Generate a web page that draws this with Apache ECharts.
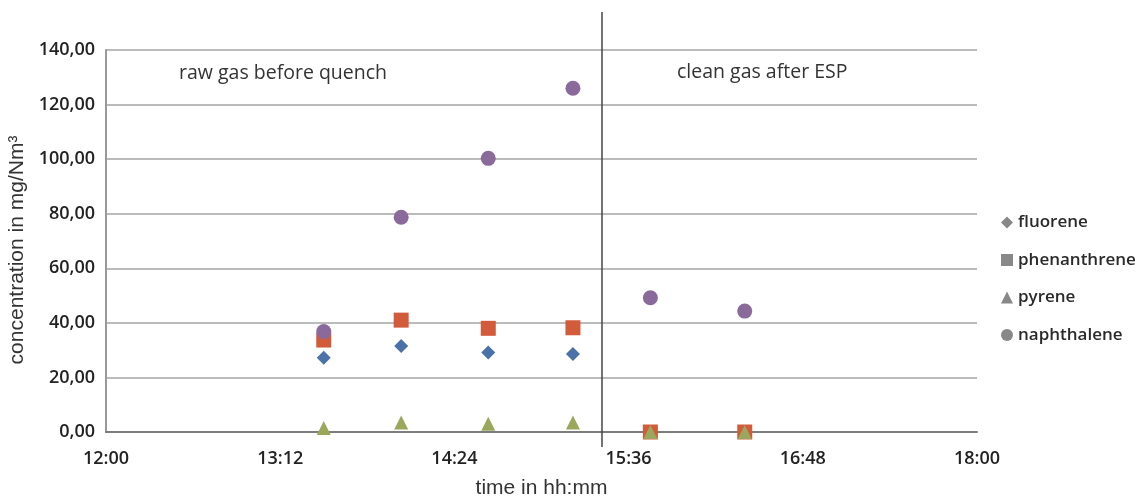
<!DOCTYPE html>
<html>
<head>
<meta charset="utf-8">
<title>PAH concentration</title>
<script src="https://cdn.jsdelivr.net/npm/echarts@6/dist/echarts.min.js"></script>
<style>
  html, body { margin: 0; padding: 0; background: #fff; }
  #chart { width: 1141px; height: 501px; }
</style>
</head>
<body>
<div id="chart"></div>
<script>
// sampling times (hh:mm) and measured concentrations in mg/Nm3
const times = ['13:30', '14:02', '14:38', '15:13', '15:45', '16:24']
const fluorene = [27.2, 31.5, 29.1, 28.6, 0, 0]
const phenanthrene = [33.7, 41.0, 38.0, 38.2, 0, 0]
const pyrene = [1.5, 3.5, 3.0, 3.5, 0, 0]
const naphthalene = [36.8, 78.7, 100.3, 126.0, 49.2, 44.3]
const dividerTime = '15:25'
const xTicks = ['12:00', '13:12', '14:24', '15:36', '16:48', '18:00']

const toMin = s => {
  const p = s.split(':')
  return +p[0] * 60 + +p[1]
}
const fmtTime = m => {
  const h = Math.floor(m / 60)
  const mm = Math.round(m % 60)
  return h + ':' + (mm < 10 ? '0' : '') + mm
}
const pairs = vals => times.map((t, i) => [toMin(t), vals[i]])

const seriesDefs = [
  { name: 'fluorene', data: fluorene, symbol: 'diamond', size: 14, color: '#4a72a8' },
  { name: 'phenanthrene', data: phenanthrene, symbol: 'rect', size: 15, color: '#d25b3b' },
  { name: 'pyrene', data: pyrene, symbol: 'triangle', size: 14, color: '#9aa85e' },
  { name: 'naphthalene', data: naphthalene, symbol: 'circle', size: 15, color: '#8a6a9a' }
]

const chart = echarts.init(document.getElementById('chart'))

chart.setOption({
  animation: false,
  grid: { left: 106, right: 164, top: 50, bottom: 69, outerBoundsMode: 'none' },
  legend: {
    orient: 'vertical',
    left: 996,
    top: 209,
    itemGap: 20.5,
    itemWidth: 12,
    itemHeight: 12,
    textStyle: { fontFamily: 'Open Sans', fontSize: 17, fontWeight: 600, color: '#2a2a2a' },
    data: seriesDefs.map(s => ({ name: s.name, icon: s.symbol, itemStyle: { color: '#888' } }))
  },
  xAxis: {
    type: 'value',
    min: toMin(xTicks[0]),
    max: toMin(xTicks[xTicks.length - 1]),
    interval: 72,
    name: 'time in hh:mm',
    nameLocation: 'middle',
    nameGap: 46,
    nameTextStyle: { fontFamily: 'Liberation Sans', fontSize: 21, color: '#333' },
    axisLine: { show: true, onZero: false, lineStyle: { color: '#7d7d7d', width: 2 } },
    axisTick: { show: false },
    splitLine: { show: false },
    axisLabel: {
      margin: 18,
      fontFamily: 'Open Sans',
      fontSize: 18,
      fontWeight: 600,
      color: '#222',
      formatter: v => fmtTime(v)
    }
  },
  yAxis: {
    type: 'value',
    min: 0,
    max: 140,
    interval: 20,
    name: 'concentration in mg/Nm³',
    nameLocation: 'middle',
    nameGap: 78,
    nameTextStyle: { fontFamily: 'Liberation Sans', fontSize: 21, color: '#333', padding: [0, 18, 0, 0] },
    axisLine: { show: true, lineStyle: { color: '#999', width: 2 } },
    axisTick: { show: false },
    splitLine: { show: true, lineStyle: { color: '#a4a4a4', width: 1.6 } },
    axisLabel: {
      margin: 11,
      fontFamily: 'Open Sans',
      fontSize: 18,
      fontWeight: 600,
      color: '#222',
      formatter: v => v.toFixed(2).replace('.', ',')
    }
  },
  series: seriesDefs.map(s => ({
    name: s.name,
    type: 'scatter',
    symbol: s.symbol,
    symbolSize: s.size,
    itemStyle: { color: s.color, opacity: 1 },
    data: pairs(s.data)
  }))
})

// divider between raw gas and clean gas sampling, sticking out of the plot area
const divTop = chart.convertToPixel({ gridIndex: 0 }, [toMin(dividerTime), 140])
const divBottom = chart.convertToPixel({ gridIndex: 0 }, [toMin(dividerTime), 0])
const labelStyle = { fontFamily: 'Open Sans', fontSize: 19.5, fill: '#333' }
chart.setOption({
  graphic: [
    {
      type: 'line',
      z: 10,
      shape: { x1: divTop[0], y1: divTop[1] - 38, x2: divBottom[0], y2: divBottom[1] + 15 },
      style: { stroke: '#444', lineWidth: 1.5 }
    },
    {
      type: 'text',
      left: 179,
      top: 63,
      style: Object.assign({ text: 'raw gas before quench' }, labelStyle)
    },
    {
      type: 'text',
      left: 677,
      top: 62,
      style: Object.assign({ text: 'clean gas after ESP' }, labelStyle)
    }
  ]
})
</script>
</body>
</html>
